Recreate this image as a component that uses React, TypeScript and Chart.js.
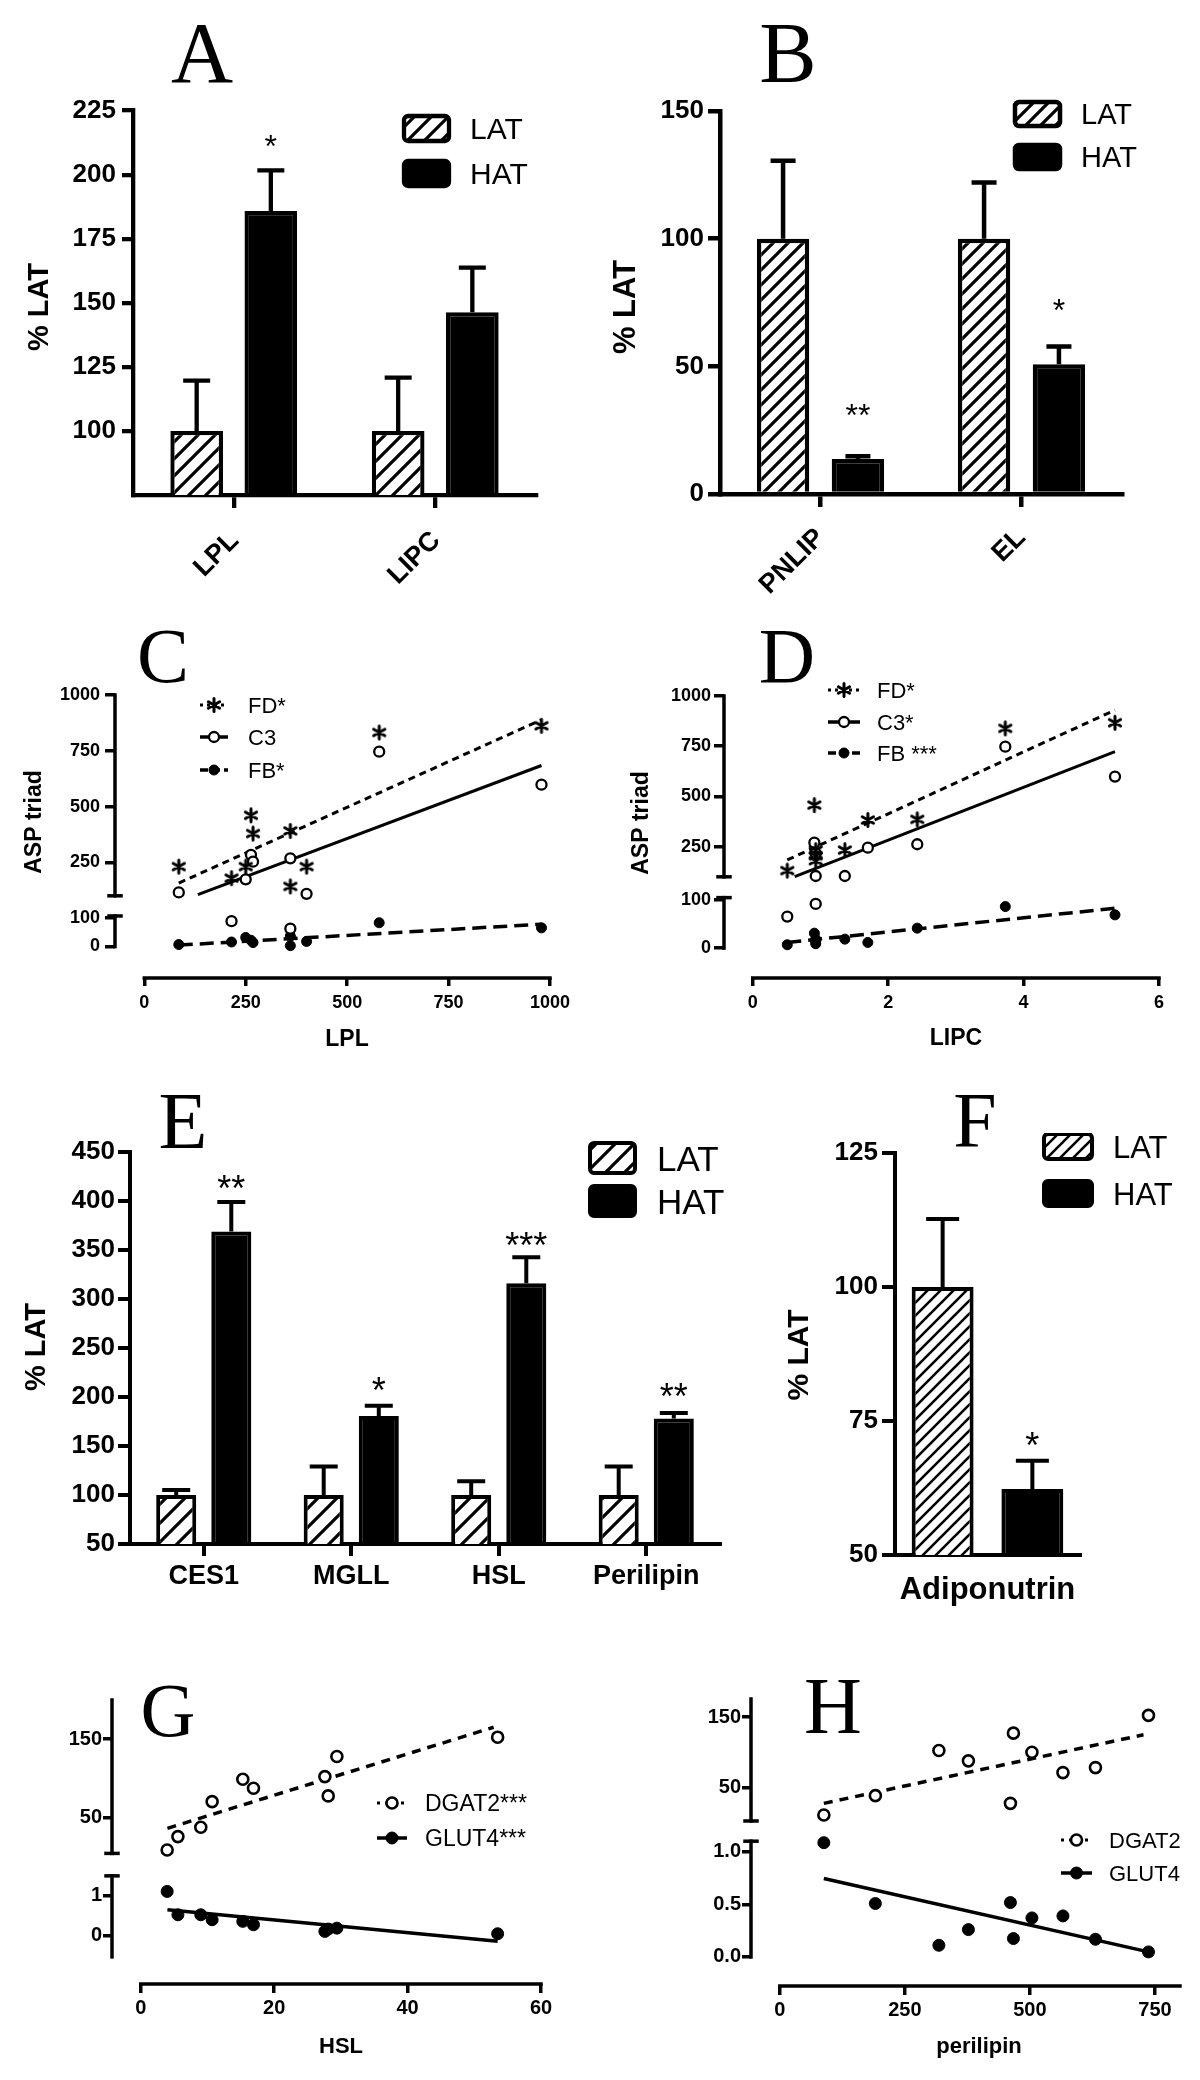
import React, { useEffect, useRef } from 'react';
import { Chart, registerables } from 'chart.js';

Chart.register(...registerables);

const SANS = "'Liberation Sans', Arial, Helvetica, sans-serif";
const SERIF = "'Liberation Serif', 'Times New Roman', Times, serif";
Chart.defaults.font.family = SANS;
Chart.defaults.color = '#000';

/* ---------------- data ---------------- */
const GROUPS = ['LAT', 'HAT'];

// Panel A
const A_GENES = ['LPL', 'LIPC'];
const A_LAT = [100, 100];
const A_LAT_SEM = [19.6, 20.8];
const A_HAT = [185.8, 146.3];
const A_HAT_SEM = [15.9, 17.4];
const A_HAT_SIG = ['*', ''];
const A_HAT_SIG_AT = [214, 0];
const A_Y_TICKS = [100, 125, 150, 175, 200, 225];

// Panel B
const B_GENES = ['PNLIP', 'EL'];
const B_LAT = [100, 100];
const B_LAT_SEM = [30.5, 22];
const B_HAT = [13.7, 50.8];
const B_HAT_SEM = [1.1, 7];
const B_HAT_SIG = ['**', '*'];
const B_HAT_SIG_AT = [34, 75];
const B_Y_TICKS = [0, 50, 100, 150];

// Panel C
const C_SERIES = ['FD*', 'C3', 'FB*'];
const C_LPL = [85, 215, 250, 263, 268, 360, 360, 400, 579, 979];
const C_FD = [231, 179, 231, 461, 379, 391, 142, 231, 832, 862];
const C_C3 = [115, 89.5, 174, 283, 253, 268, 63, 109, 746, 598];
const C_FB = [7, 16, 32, 22, 14, 37, 3, 18, 84, 66];
const C_FD_FIT_X = [85, 979];
const C_FD_FIT = [157, 889];
const C_C3_FIT_X = [132, 979];
const C_C3_FIT = [105, 684];
const C_FB_FIT_X = [85, 979];
const C_FB_FIT = [5, 79];
const C_BREAK = 100;
const C_X_TICKS = [0, 250, 500, 750, 1000];
const C_YTOP_TICKS = [250, 500, 750, 1000];
const C_YBOT_TICKS = [0, 100];

// Panel D
const D_SERIES = ['FD*', 'C3*', 'FB ***'];
const D_LIPC = [0.51, 0.91, 0.93, 0.93, 0.93, 1.36, 1.7, 2.43, 3.73, 5.35];
const D_FD = [131, 457, 233, 205, 180, 233, 383, 386, 839, 867];
const D_C3 = [65.5, 270, 104, 217, 91.7, 104, 245, 262, 748, 599];
const D_FB = [6.9, 31, 18.6, 13.8, 9, 18.6, 11.7, 41.4, 86.2, 69];
const D_FD_FIT_X = [0.51, 5.35];
const D_FD_FIT = [184, 930];
const D_C3_FIT_X = [0.62, 5.35];
const D_C3_FIT = [101, 723];
const D_FB_FIT_X = [0.51, 5.35];
const D_FB_FIT = [11.7, 82.8];
const D_BREAK = 100;
const D_X_TICKS = [0, 2, 4, 6];
const D_YTOP_TICKS = [250, 500, 750, 1000];
const D_YBOT_TICKS = [0, 100];

// Panel E
const E_GENES = ['CES1', 'MGLL', 'HSL', 'Perilipin'];
const E_LAT = [100, 100, 100, 100];
const E_LAT_SEM = [5, 29, 14, 29];
const E_HAT = [369, 180.7, 316, 178];
const E_HAT_SEM = [30, 10.3, 26.6, 5.7];
const E_HAT_SIG = ['**', '*', '***', '**'];
const E_HAT_SIG_AT = [421, 215, 363, 209];
const E_Y_TICKS = [50, 100, 150, 200, 250, 300, 350, 400, 450];

// Panel F
const F_GENES = ['Adiponutrin'];
const F_LAT = [100];
const F_LAT_SEM = [12.7];
const F_HAT = [62.3];
const F_HAT_SEM = [5.3];
const F_HAT_SIG = ['*'];
const F_HAT_SIG_AT = [72];
const F_Y_TICKS = [50, 75, 100, 125];

// Panel G
const G_SERIES = ['DGAT2***', 'GLUT4***'];
const G_HSL = [3.96, 5.57, 9.0, 10.7, 15.3, 16.9, 27.6, 28.1, 29.4, 53.5];
const G_DGAT2 = [8.7, 25.8, 37.7, 70.4, 98.9, 87.5, 102.3, 77.7, 127.9, 152.6];
const G_GLUT4 = [1.11, 0.525, 0.525, 0.4, 0.36, 0.275, 0.108, 0.167, 0.19, 0.05];
const G_DGAT2_FIT_X = [4, 52.9];
const G_DGAT2_FIT = [36.4, 165.3];
const G_GLUT4_FIT_X = [4, 53.5];
const G_GLUT4_FIT = [0.65, -0.14];
const G_X_TICKS = [0, 20, 40, 60];
const G_YTOP_TICKS = [50, 150];
const G_YBOT_TICKS = [0, 1];

// Panel H
const H_SERIES = ['DGAT2', 'GLUT4'];
const H_PERI = [88, 191, 318, 377, 461, 467, 504, 566, 631, 737];
const H_DGAT2 = [11.1, 38.6, 102.6, 87.9, 27.7, 127.2, 100.2, 71.3, 78.4, 152.4];
const H_GLUT4 = [1.086, 0.508, 0.111, 0.26, 0.517, 0.175, 0.371, 0.39, 0.168, 0.048];
const H_DGAT2_FIT_X = [88, 727];
const H_DGAT2_FIT = [27.7, 124.9];
const H_GLUT4_FIT_X = [88, 737];
const H_GLUT4_FIT = [0.746, 0.048];
const H_X_TICKS = [0, 250, 500, 750];
const H_YTOP_TICKS = [50, 150];
const H_YBOT_TICKS = [0, 0.5, 1.0];

const LETTERS = [
  { t: 'A', x: 202, y: 54, s: 86 },
  { t: 'B', x: 788, y: 54, s: 86 },
  { t: 'C', x: 163, y: 657, s: 78 },
  { t: 'D', x: 787, y: 657, s: 78 },
  { t: 'E', x: 183, y: 1122, s: 80 },
  { t: 'F', x: 975, y: 1121, s: 78 },
  { t: 'G', x: 168, y: 1710, s: 76 },
  { t: 'H', x: 833, y: 1707, s: 80 },
];

/* ---------------- helpers ---------------- */
function makeHatch(step: number, lw: number): any {
  const c = document.createElement('canvas');
  c.width = step;
  c.height = step;
  const g = c.getContext('2d') as CanvasRenderingContext2D;
  g.fillStyle = '#fff';
  g.fillRect(0, 0, step, step);
  g.strokeStyle = '#000';
  g.lineWidth = lw;
  g.beginPath();
  for (const k of [-1, 0, 1]) {
    g.moveTo(k * step - 3, step + 3);
    g.lineTo(k * step + step + 3, -3);
  }
  g.stroke();
  return g.createPattern(c, 'repeat');
}

function capText(ctx: CanvasRenderingContext2D, text: string, x: number, y: number, size: number, bold: boolean, rot: boolean, align: CanvasTextAlign = 'center') {
  ctx.save();
  ctx.translate(x, y);
  if (rot) ctx.rotate(-Math.PI / 2);
  ctx.font = `${bold ? 'bold ' : ''}${size}px ${SANS}`;
  ctx.fillStyle = '#000';
  ctx.textAlign = align;
  ctx.textBaseline = 'alphabetic';
  ctx.fillText(text, 0, 0.358 * size);
  ctx.restore();
}

// six-spoke asterisk, as used for the FD markers
function asteriskImage(r: number, bw: number): HTMLCanvasElement {
  const size = Math.ceil(2 * r + bw + 2);
  const c = document.createElement('canvas');
  c.width = size;
  c.height = size;
  const g = c.getContext('2d') as CanvasRenderingContext2D;
  drawMarker(g, 'star', size / 2, size / 2, r, bw);
  return c;
}

function drawMarker(ctx: CanvasRenderingContext2D, kind: string, x: number, y: number, r: number, bw: number) {
  ctx.save();
  ctx.setLineDash([]);
  ctx.lineWidth = bw;
  ctx.strokeStyle = '#000';
  ctx.lineCap = 'round';
  ctx.beginPath();
  if (kind === 'star') {
    for (let k = 0; k < 3; k++) {
      const a = Math.PI / 2 + (k * Math.PI) / 3;
      ctx.moveTo(x - r * Math.cos(a), y - r * Math.sin(a));
      ctx.lineTo(x + r * Math.cos(a), y + r * Math.sin(a));
    }
    ctx.stroke();
  } else {
    ctx.arc(x, y, r, 0, Math.PI * 2);
    ctx.fillStyle = kind === 'filled' ? '#000' : '#fff';
    ctx.fill();
    ctx.stroke();
  }
  ctx.restore();
}

function extras(spec: any) {
  const ox = spec.origin[0];
  const oy = spec.origin[1];
  return {
    id: 'extras',
    afterDatasetsDraw(chart: any) {
      const ctx: CanvasRenderingContext2D = chart.ctx;
      const bars = spec.bars || [];
      bars.forEach((b: any, di: number) => {
        const meta = chart.getDatasetMeta(di);
        const ys = chart.scales[meta.yAxisID];
        const vals = chart.data.datasets[di].data;
        meta.data.forEach((el: any, i: number) => {
          const top = ys.getPixelForValue(vals[i] + b.sem[i]);
          ctx.save();
          ctx.strokeStyle = '#000';
          ctx.lineWidth = spec.errW;
          ctx.beginPath();
          ctx.moveTo(el.x, el.y);
          ctx.lineTo(el.x, top);
          ctx.moveTo(el.x - spec.capW / 2, top);
          ctx.lineTo(el.x + spec.capW / 2, top);
          ctx.stroke();
          ctx.restore();
          if (b.sig && b.sig[i]) {
            const cy = ys.getPixelForValue(b.sigAt[i]);
            ctx.save();
            ctx.font = `${spec.sigFont}px ${SANS}`;
            ctx.fillStyle = '#000';
            ctx.textAlign = 'center';
            ctx.textBaseline = 'alphabetic';
            ctx.fillText(b.sig[i], el.x, cy + 0.58 * spec.sigFont);
            ctx.restore();
          }
        });
      });
    },
    afterDraw(chart: any) {
      const ctx: CanvasRenderingContext2D = chart.ctx;
      if (spec.axes) {
        const a = spec.axes;
        ctx.save();
        ctx.strokeStyle = '#000';
        ctx.lineWidth = a.lw;
        ctx.lineCap = 'square';
        const xs = chart.scales.x;
        ctx.beginPath();
        ctx.moveTo(xs.getPixelForValue(a.x[0]), xs.top);
        ctx.lineTo(xs.getPixelForValue(a.x[1]), xs.top);
        ctx.stroke();
        a.ys.forEach((seg: any) => {
          const sc = chart.scales[seg.id];
          const x = sc.right;
          ctx.beginPath();
          ctx.moveTo(x, sc.getPixelForValue(seg.from));
          ctx.lineTo(x, sc.getPixelForValue(seg.to));
          ctx.stroke();
          const cy = sc.getPixelForValue(seg.cap);
          ctx.beginPath();
          ctx.moveTo(x - a.capHalf, cy);
          ctx.lineTo(x + a.capHalf, cy);
          ctx.stroke();
        });
        ctx.restore();
      }
      if (spec.barLegend) {
        const L = spec.barLegend;
        L.fills.forEach((f: any, i: number) => {
          const x = L.x - ox;
          const y = L.ys[i] - oy;
          ctx.save();
          ctx.beginPath();
          (ctx as any).roundRect(x, y, L.w, L.h, 4);
          ctx.fillStyle = f;
          ctx.fill();
          ctx.lineWidth = L.lw;
          ctx.strokeStyle = '#000';
          ctx.stroke();
          ctx.restore();
          capText(ctx, L.labels[i], L.textX - ox, y + L.h / 2, L.font, false, false, 'left');
        });
      }
      if (spec.lineLegend) {
        const L = spec.lineLegend;
        L.items.forEach((it: any, i: number) => {
          const y = L.ys[i] - oy;
          ctx.save();
          ctx.strokeStyle = '#000';
          ctx.lineWidth = it.lw;
          ctx.setLineDash(it.dash);
          ctx.beginPath();
          ctx.moveTo(L.x0 - ox, y);
          ctx.lineTo(L.x1 - ox, y);
          ctx.stroke();
          ctx.restore();
          drawMarker(ctx, it.marker, (L.x0 + L.x1) / 2 - ox, y, it.r, it.bw);
          capText(ctx, it.label, L.textX - ox, y, L.font, false, false, 'left');
        });
      }
      (spec.texts || []).forEach((t: any) => capText(ctx, t.text, t.x - ox, t.y - oy, t.size, true, !!t.rot));
    },
  };
}

const bold = (size: number) => ({ family: SANS, size, weight: 'bold' as const });

function barConfig(s: any) {
  const hatch = makeHatch(s.hatch, s.hatchLw);
  const common = { borderColor: '#000', borderWidth: s.lw, borderSkipped: 'start', categoryPercentage: s.catPct, barPercentage: s.barPct };
  return {
    type: 'bar',
    data: {
      labels: s.labels,
      datasets: [
        { label: GROUPS[0], data: s.lat, backgroundColor: hatch, ...common },
        { label: GROUPS[1], data: s.hat, backgroundColor: '#000', ...common },
      ],
    },
    options: {
      responsive: false,
      animation: false,
      events: [],
      layout: { padding: { top: s.pt, right: s.pr, bottom: 0, left: 0 } },
      plugins: { legend: { display: false }, tooltip: { enabled: false }, title: { display: false } },
      scales: {
        x: {
          type: 'category',
          z: 1,
          grid: { display: true, drawOnChartArea: false, offset: false, drawTicks: s.xTick > 0, tickLength: s.xTick, tickWidth: s.lw, tickColor: '#000', lineWidth: s.lw, color: '#000' },
          border: { display: true, color: '#000', width: s.lw },
          ticks: { color: '#000', font: bold(s.xFont), minRotation: s.rot, maxRotation: s.rot, autoSkip: false, padding: s.xPad, labelOffset: s.xOff || 0 },
          afterFit: (sc: any) => { sc.height = s.xh; },
        },
        y: {
          type: 'linear',
          z: 1,
          min: s.yMin,
          max: s.yMax,
          afterBuildTicks: (sc: any) => { sc.ticks = s.yTicks.map((v: number) => ({ value: v })); },
          grid: { display: true, drawOnChartArea: false, drawTicks: true, tickLength: s.yTick, tickWidth: s.lw, tickColor: '#000', lineWidth: s.lw, color: '#000' },
          border: { display: true, color: '#000', width: s.lw },
          ticks: { color: '#000', font: bold(s.yFont), padding: s.yPad, callback: (v: any) => String(v) },
          afterFit: (sc: any) => { sc.width = s.yw; },
        },
      },
    },
    plugins: [
      extras({
        origin: s.origin,
        errW: s.errW,
        capW: s.capW,
        sigFont: s.sigFont,
        bars: [{ sem: s.latSem }, { sem: s.hatSem, sig: s.sig, sigAt: s.sigAt }],
        barLegend: { ...s.legend, fills: [hatch, '#000'], labels: GROUPS, lw: s.lw },
        texts: s.texts,
      }),
    ],
  };
}

function scatterConfig(s: any) {
  const yScale = (o: any, weight: number) => ({
    type: 'linear',
    axis: 'y',
    position: 'left',
    stack: 'ys',
    stackWeight: o.h,
    weight,
    min: o.min,
    max: o.max,
    afterBuildTicks: (sc: any) => { sc.ticks = o.ticks.map((v: number) => ({ value: v })); },
    grid: { display: true, drawOnChartArea: false, drawTicks: true, tickLength: s.yTick, tickWidth: s.lw, tickColor: '#000', lineWidth: s.lw, color: '#000' },
    border: { display: false },
    ticks: { color: '#000', font: bold(s.yFont), padding: s.yPad, callback: o.fmt || ((v: any) => String(v)) },
    afterFit: (sc: any) => { sc.width = s.yw; },
  });
  return {
    type: 'scatter',
    data: { datasets: s.datasets },
    options: {
      responsive: false,
      animation: false,
      events: [],
      layout: { padding: { top: s.pt, right: s.pr, bottom: 0, left: 0 } },
      plugins: { legend: { display: false }, tooltip: { enabled: false }, title: { display: false } },
      scales: {
        x: {
          type: 'linear',
          position: 'bottom',
          min: s.x.min,
          max: s.x.max,
          afterBuildTicks: (sc: any) => { sc.ticks = s.x.ticks.map((v: number) => ({ value: v })); },
          grid: { display: true, drawOnChartArea: false, drawTicks: true, tickLength: s.xTick, tickWidth: s.lw, tickColor: '#000', lineWidth: s.lw, color: '#000' },
          border: { display: false },
          ticks: { color: '#000', font: bold(s.xFont), padding: s.xPad, maxRotation: 0, autoSkip: false, callback: (v: any) => String(v) },
          afterFit: (sc: any) => { sc.height = s.xh; },
        },
        yTop: yScale(s.top, 2),
        yBot: yScale(s.bot, 1),
      },
    },
    plugins: [
      extras({
        origin: s.origin,
        axes: { lw: s.lw, capHalf: 6, x: s.x.line, ys: [{ id: 'yTop', ...s.top.seg }, { id: 'yBot', ...s.bot.seg }] },
        lineLegend: s.legend,
        texts: s.texts,
      }),
    ],
  };
}

const pts = (xs: number[], ys: number[], keep: (y: number) => boolean = () => true) =>
  xs.map((x, i) => ({ x, y: ys[i] })).filter((p) => keep(p.y));
const aster = (r: number, bw: number) => ({ pointStyle: asteriskImage(r, bw), pointRadius: r, showLine: false });
const openPt = (r: number, bw: number) => ({ pointStyle: 'circle', pointRadius: r, pointBorderWidth: bw, pointBorderColor: '#000', pointBackgroundColor: '#fff', showLine: false });
const filledPt = (r: number) => ({ pointStyle: 'circle', pointRadius: r, pointBorderWidth: 1, pointBorderColor: '#000', pointBackgroundColor: '#000', showLine: false });
const fitLine = (dash: number[], lw: number) => ({ showLine: true, pointRadius: 0, borderColor: '#000', borderWidth: lw, borderDash: dash, fill: false });

/* ---------------- panels ---------------- */
const PANELS: { box: [number, number, number, number]; build: () => any }[] = [
  {
    box: [0, 89, 556, 496],
    build: () => barConfig({
      origin: [0, 89], yw: 133, xh: 90, pt: 20, pr: 20,
      labels: A_GENES, lat: A_LAT, latSem: A_LAT_SEM, hat: A_HAT, hatSem: A_HAT_SEM, sig: A_HAT_SIG, sigAt: A_HAT_SIG_AT,
      yMin: 75, yMax: 225, yTicks: A_Y_TICKS, yFont: 26, yTick: 11, yPad: 6,
      xFont: 27, xTick: 13, xPad: 17, xOff: 1, rot: 45,
      catPct: 0.736, barPct: 0.71, lw: 4.3, hatch: 17, hatchLw: 3.2, errW: 4.3, capW: 27, sigFont: 32,
      legend: { x: 404, ys: [116, 161], w: 45, h: 25, textX: 470, font: 30 },
      texts: [{ text: '% LAT', x: 37.5, y: 307, size: 29, rot: true }],
    }),
  },
  {
    box: [580, 91, 562, 513],
    build: () => barConfig({
      origin: [580, 91], yw: 140, xh: 110, pt: 20, pr: 20,
      labels: B_GENES, lat: B_LAT, latSem: B_LAT_SEM, hat: B_HAT, hatSem: B_HAT_SEM, sig: B_HAT_SIG, sigAt: B_HAT_SIG_AT,
      yMin: 0, yMax: 150, yTicks: B_Y_TICKS, yFont: 26, yTick: 12, yPad: 4,
      xFont: 27, xTick: 13, xPad: 15, xOff: 0, rot: 45,
      catPct: 0.745, barPct: 0.7, lw: 4.5, hatch: 15, hatchLw: 3.2, errW: 4.5, capW: 25, sigFont: 32,
      legend: { x: 1015, ys: [102, 145], w: 45, h: 24, textX: 1081, font: 29 },
      texts: [{ text: '% LAT', x: 624, y: 307, size: 31, rot: true }],
    }),
  },
  {
    box: [0, 675, 585, 383],
    build: () => scatterConfig({
      origin: [0, 675], yw: 115, xh: 80, pt: 20, pr: 35, lw: 3.5,
      yFont: 18, yTick: 10, yPad: 5, xFont: 18, xTick: 8, xPad: 6,
      x: { min: -72.2, max: 1000, ticks: C_X_TICKS, line: [0, 1000] },
      top: { h: 211, min: 54.3, max: 1000, ticks: C_YTOP_TICKS, seg: { from: 100, to: 1000, cap: 100 } },
      bot: { h: 72, min: -111.3, max: 143.3, ticks: C_YBOT_TICKS, seg: { from: 0, to: 108, cap: 108 } },
      datasets: [
        { ...aster(6.5, 3), data: pts(C_LPL, C_FD), yAxisID: 'yTop' },
        { ...openPt(5, 2.3), data: pts(C_LPL, C_C3, (y) => y >= C_BREAK), yAxisID: 'yTop' },
        { ...openPt(5, 2.3), data: pts(C_LPL, C_C3, (y) => y < C_BREAK), yAxisID: 'yBot' },
        { ...filledPt(5), data: pts(C_LPL, C_FB), yAxisID: 'yBot' },
        { ...fitLine([7, 5], 3), data: pts(C_FD_FIT_X, C_FD_FIT), yAxisID: 'yTop' },
        { ...fitLine([], 3), data: pts(C_C3_FIT_X, C_C3_FIT), yAxisID: 'yTop' },
        { ...fitLine([14, 7], 3.5), data: pts(C_FB_FIT_X, C_FB_FIT), yAxisID: 'yBot' },
      ],
      legend: {
        x0: 200, x1: 228, ys: [705, 737, 770], textX: 248, font: 22,
        items: [
          { label: C_SERIES[0], dash: [3, 4], lw: 3, marker: 'star', r: 6.5, bw: 3 },
          { label: C_SERIES[1], dash: [], lw: 3.5, marker: 'open', r: 5, bw: 2.3 },
          { label: C_SERIES[2], dash: [8, 4], lw: 3.5, marker: 'filled', r: 5, bw: 1 },
        ],
      },
      texts: [
        { text: 'ASP triad', x: 33, y: 822, size: 23, rot: true },
        { text: 'LPL', x: 347, y: 1038, size: 23 },
      ],
    }),
  },
  {
    box: [600, 676, 589, 382],
    build: () => scatterConfig({
      origin: [600, 676], yw: 124, xh: 80, pt: 20, pr: 30, lw: 3.5,
      yFont: 18, yTick: 10, yPad: 3, xFont: 18, xTick: 8, xPad: 6,
      x: { min: -0.4246, max: 6, ticks: D_X_TICKS, line: [0, 6] },
      top: { h: 192, min: 44.3, max: 1000, ticks: D_YTOP_TICKS, seg: { from: 100, to: 1000, cap: 100 } },
      bot: { h: 90, min: -62.1, max: 124.8, ticks: D_YBOT_TICKS, seg: { from: 0, to: 104.8, cap: 104.8 } },
      datasets: [
        { ...aster(6.5, 3), data: pts(D_LIPC, D_FD), yAxisID: 'yTop' },
        { ...openPt(5, 2.3), data: pts(D_LIPC, D_C3, (y) => y >= D_BREAK), yAxisID: 'yTop' },
        { ...openPt(5, 2.3), data: pts(D_LIPC, D_C3, (y) => y < D_BREAK), yAxisID: 'yBot' },
        { ...filledPt(5), data: pts(D_LIPC, D_FB), yAxisID: 'yBot' },
        { ...fitLine([7, 5], 3), data: pts(D_FD_FIT_X, D_FD_FIT), yAxisID: 'yTop' },
        { ...fitLine([], 3), data: pts(D_C3_FIT_X, D_C3_FIT), yAxisID: 'yTop' },
        { ...fitLine([14, 7], 3.5), data: pts(D_FB_FIT_X, D_FB_FIT), yAxisID: 'yBot' },
      ],
      legend: {
        x0: 828, x1: 860, ys: [690, 722, 753], textX: 877, font: 22,
        items: [
          { label: D_SERIES[0], dash: [3, 4], lw: 3, marker: 'star', r: 6.5, bw: 3 },
          { label: D_SERIES[1], dash: [], lw: 3.5, marker: 'open', r: 5, bw: 2.3 },
          { label: D_SERIES[2], dash: [8, 4], lw: 3.5, marker: 'filled', r: 5, bw: 1 },
        ],
      },
      texts: [
        { text: 'ASP triad', x: 640, y: 823, size: 23, rot: true },
        { text: 'LIPC', x: 956, y: 1037, size: 23 },
      ],
    }),
  },
  {
    box: [0, 1132, 740, 467],
    build: () => barConfig({
      origin: [0, 1132], yw: 130, xh: 55, pt: 20, pr: 20,
      labels: E_GENES, lat: E_LAT, latSem: E_LAT_SEM, hat: E_HAT, hatSem: E_HAT_SEM, sig: E_HAT_SIG, sigAt: E_HAT_SIG_AT,
      yMin: 50, yMax: 450, yTicks: E_Y_TICKS, yFont: 26, yTick: 12, yPad: 3,
      xFont: 27, xTick: 12, xPad: 4, rot: 0,
      catPct: 0.747, barPct: 0.727, lw: 4, hatch: 19, hatchLw: 3.2, errW: 4, capW: 28, sigFont: 36,
      legend: { x: 590, ys: [1143, 1186], w: 45, h: 30, textX: 657, font: 35 },
      texts: [{ text: '% LAT', x: 35, y: 1347, size: 29, rot: true }],
    }),
  },
  {
    box: [760, 1133, 440, 482],
    build: () => barConfig({
      origin: [760, 1133], yw: 135, xh: 60, pt: 20, pr: 120,
      labels: F_GENES, lat: F_LAT, latSem: F_LAT_SEM, hat: F_HAT, hatSem: F_HAT_SEM, sig: F_HAT_SIG, sigAt: F_HAT_SIG_AT,
      yMin: 50, yMax: 125, yTicks: F_Y_TICKS, yFont: 26, yTick: 13, yPad: 4,
      xFont: 31, xTick: 0, xPad: 17, rot: 0,
      catPct: 0.97, barPct: 0.69, lw: 4, hatch: 13, hatchLw: 2.6, errW: 4, capW: 33, sigFont: 36,
      legend: { x: 1044, ys: [1134, 1181], w: 48, h: 25, textX: 1113, font: 31 },
      texts: [{ text: '% LAT', x: 797, y: 1355, size: 30, rot: true }],
    }),
  },
  {
    box: [0, 1680, 576, 394],
    build: () => scatterConfig({
      origin: [0, 1680], yw: 112, xh: 90, pt: 20, pr: 35, lw: 3.5,
      yFont: 20, yTick: 9, yPad: 1, xFont: 20, xTick: 9, xPad: 3,
      x: { min: -4.31, max: 60, ticks: G_X_TICKS, line: [0, 60] },
      top: { h: 164.7, min: -10, max: 200, ticks: G_YTOP_TICKS, seg: { from: 4.4, to: 200, cap: 4.4 } },
      bot: { h: 119.3, min: -1.21, max: 1.78, ticks: G_YBOT_TICKS, seg: { from: -0.53, to: 1.5, cap: 1.5 } },
      datasets: [
        { ...openPt(5.5, 2.6), data: pts(G_HSL, G_DGAT2), yAxisID: 'yTop' },
        { ...filledPt(6), data: pts(G_HSL, G_GLUT4), yAxisID: 'yBot' },
        { ...fitLine([9, 7], 3.5), data: pts(G_DGAT2_FIT_X, G_DGAT2_FIT), yAxisID: 'yTop' },
        { ...fitLine([], 3.5), data: pts(G_GLUT4_FIT_X, G_GLUT4_FIT), yAxisID: 'yBot' },
      ],
      legend: {
        x0: 377, x1: 407, ys: [1803, 1838], textX: 425, font: 23,
        items: [
          { label: G_SERIES[0], dash: [3, 5], lw: 3, marker: 'open', r: 5.5, bw: 2.6 },
          { label: G_SERIES[1], dash: [], lw: 3.5, marker: 'filled', r: 6, bw: 1 },
        ],
      },
      texts: [{ text: 'HSL', x: 341, y: 2045, size: 22 }],
    }),
  },
  {
    box: [640, 1679, 560, 397],
    build: () => scatterConfig({
      origin: [640, 1679], yw: 111, xh: 90, pt: 20, pr: 20, lw: 3.5,
      yFont: 20, yTick: 9, yPad: 1, xFont: 20, xTick: 9, xPad: 3,
      x: { min: -57.6, max: 800, ticks: H_X_TICKS, line: [0, 800] },
      top: { h: 132, min: -11.5, max: 175.6, ticks: H_YTOP_TICKS, seg: { from: 2.7, to: 175.6, cap: 2.7 } },
      bot: { h: 155, min: -0.276, max: 1.197, ticks: H_YBOT_TICKS, fmt: (v: any) => Number(v).toFixed(1), seg: { from: 0, to: 1.1, cap: 1.1 } },
      datasets: [
        { ...openPt(5.5, 2.6), data: pts(H_PERI, H_DGAT2), yAxisID: 'yTop' },
        { ...filledPt(6), data: pts(H_PERI, H_GLUT4), yAxisID: 'yBot' },
        { ...fitLine([9, 7], 3.5), data: pts(H_DGAT2_FIT_X, H_DGAT2_FIT), yAxisID: 'yTop' },
        { ...fitLine([], 3.5), data: pts(H_GLUT4_FIT_X, H_GLUT4_FIT), yAxisID: 'yBot' },
      ],
      legend: {
        x0: 1061, x1: 1092, ys: [1840, 1873], textX: 1109, font: 22,
        items: [
          { label: H_SERIES[0], dash: [3, 5], lw: 3, marker: 'open', r: 5.5, bw: 2.6 },
          { label: H_SERIES[1], dash: [], lw: 3.5, marker: 'filled', r: 6, bw: 1 },
        ],
      },
      texts: [{ text: 'perilipin', x: 979, y: 2045, size: 22 }],
    }),
  },
];

function ChartBox({ box, build }: { box: [number, number, number, number]; build: () => any }) {
  const ref = useRef<HTMLCanvasElement | null>(null);
  useEffect(() => {
    if (!ref.current) return;
    const chart = new Chart(ref.current, build());
    return () => chart.destroy();
  }, []);
  const [left, top, width, height] = box;
  return (
    <canvas
      ref={ref}
      width={width}
      height={height}
      style={{ position: 'absolute', left, top, width, height, display: 'block' }}
    />
  );
}

export default function App() {
  return (
    <div style={{ position: 'absolute', left: 0, top: 0, width: 1200, height: 2080, background: '#fff', overflow: 'hidden' }}>
      {PANELS.map((p, i) => (
        <ChartBox key={i} box={p.box} build={p.build} />
      ))}
      {LETTERS.map((l) => (
        <div
          key={l.t}
          style={{
            position: 'absolute',
            left: l.x - 60,
            top: l.y - 0.5065 * l.s,
            width: 120,
            textAlign: 'center',
            fontFamily: SERIF,
            fontSize: l.s,
            lineHeight: `${l.s}px`,
            color: '#000',
            pointerEvents: 'none',
          }}
        >
          {l.t}
        </div>
      ))}
    </div>
  );
}
